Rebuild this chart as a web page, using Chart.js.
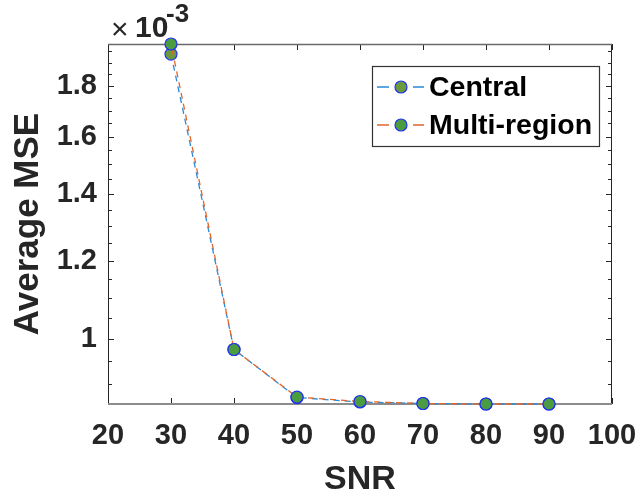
<!DOCTYPE html>
<html>
<head>
<meta charset="utf-8">
<script src="https://cdn.jsdelivr.net/npm/chart.js@4/dist/chart.umd.min.js"></script>
<style>
  html, body { margin: 0; padding: 0; background: #fff; }
  #wrap { width: 639px; height: 496px; }
</style>
</head>
<body>
<div id="wrap"><canvas id="mseChart" width="639" height="496"></canvas></div>
<script>
// SNR sweep and averaged MSE of both estimators
var snr = [30, 40, 50, 60, 70, 80, 90];
var centralMse = [1.938e-3, 0.976e-3, 0.873e-3, 0.864e-3, 0.861e-3, 0.860e-3, 0.860e-3];
var multiRegionMse = [1.984e-3, 0.976e-3, 0.874e-3, 0.865e-3, 0.861e-3, 0.860e-3, 0.860e-3];

// axis ticks
var xTicks = [20, 30, 40, 50, 60, 70, 80, 90, 100];
var yTicks = [1.0e-3, 1.2e-3, 1.4e-3, 1.6e-3, 1.8e-3];
var yMinorTicks = [0.9e-3, 0.95e-3, 1.05e-3, 1.1e-3, 1.15e-3, 1.25e-3, 1.3e-3, 1.35e-3,
                   1.45e-3, 1.5e-3, 1.55e-3, 1.65e-3, 1.7e-3, 1.75e-3, 1.85e-3, 1.9e-3, 1.95e-3];

var FONT = '"Liberation Sans", Arial, Helvetica, sans-serif';

function toPoints(ys) {
    return snr.map(function(x, i) { return { x: x, y: ys[i] }; });
}

// frame + inward tick marks, drawn under the data
const axesBox = {
    id: 'axesBox',
    beforeDatasetsDraw(chart) {
        const ctx = chart.ctx, a = chart.chartArea;
        const x = chart.scales.x, y = chart.scales.y;
        ctx.save();
        ctx.lineWidth = 1;
        ctx.strokeStyle = '#262626';
        function seg(x0, y0, x1, y1) {
            ctx.beginPath(); ctx.moveTo(x0, y0); ctx.lineTo(x1, y1); ctx.stroke();
        }
        xTicks.forEach(function(v) {
            var px = Math.round(x.getPixelForValue(v)) + 0.5;
            seg(px, a.bottom, px, a.bottom - 6);
            seg(px, a.top, px, a.top + 6);
        });
        yTicks.forEach(function(v) {
            var py = Math.round(y.getPixelForValue(v)) + 0.5;
            seg(a.left, py, a.left + 6, py);
            seg(a.right, py, a.right - 6, py);
        });
        yMinorTicks.forEach(function(v) {
            var py = Math.round(y.getPixelForValue(v)) + 0.5;
            seg(a.left, py, a.left + 4, py);
            seg(a.right, py, a.right - 4, py);
        });
        seg(a.left + 0.5, a.top, a.left + 0.5, a.bottom);
        seg(a.right - 0.5, a.top, a.right - 0.5, a.bottom);
        ctx.strokeStyle = '#6a6a6a';
        ctx.lineWidth = 1.5;
        seg(a.left, a.top + 0.5, a.right, a.top + 0.5);
        ctx.strokeStyle = '#8c8c8c';
        ctx.lineWidth = 2;
        seg(a.left, a.bottom, a.right, a.bottom);
        ctx.restore();
    },
    afterDraw(chart) {
        // exponent label above the y axis
        const ctx = chart.ctx;
        ctx.save();
        ctx.fillStyle = '#262626';
        ctx.textBaseline = 'alphabetic';
        ctx.font = '30px ' + FONT;
        ctx.fillText('\u00d7', 111, 39);
        ctx.font = 'bold 30px ' + FONT;
        ctx.fillText('10', 135, 37);
        ctx.font = 'bold 26px ' + FONT;
        ctx.fillText('-3', 166, 22);
        ctx.restore();
    }
};

// boxed legend in the upper right of the plot
const boxLegend = {
    id: 'boxLegend',
    afterDatasetsDraw(chart) {
        const ctx = chart.ctx;
        const sets = chart.data.datasets;
        const bx = 372, by = 66, bw = 227, bh = 80;
        ctx.save();
        ctx.fillStyle = '#fff';
        ctx.fillRect(bx, by, bw, bh);
        ctx.strokeStyle = '#333';
        ctx.lineWidth = 1.2;
        ctx.strokeRect(bx + 0.5, by + 0.5, bw, bh);
        sets.forEach(function(ds, i) {
            var cy = 87 + i * 38;
            ctx.strokeStyle = ds.borderColor;
            ctx.lineWidth = ds.borderWidth;
            ctx.beginPath();
            ctx.moveTo(377, cy); ctx.lineTo(389, cy);
            ctx.moveTo(413, cy); ctx.lineTo(424, cy);
            ctx.stroke();
            ctx.beginPath();
            ctx.arc(401, cy, ds.pointRadius, 0, Math.PI * 2);
            ctx.fillStyle = ds.pointBackgroundColor;
            ctx.fill();
            ctx.strokeStyle = ds.pointBorderColor;
            ctx.lineWidth = ds.pointBorderWidth;
            ctx.stroke();
            ctx.fillStyle = '#000';
            ctx.font = 'bold 28.5px ' + FONT;
            ctx.textBaseline = 'middle';
            ctx.fillText(ds.label, 429, cy + 1);
        });
        ctx.restore();
    }
};

var ctx = document.getElementById('mseChart').getContext('2d');
var mseChart = new Chart(ctx, {
    type: 'line',
    data: {
        datasets: [{
            label: 'Central',
            data: toPoints(centralMse),
            borderColor: '#2a8ad4',
            borderWidth: 1.3,
            borderDash: [6, 5],
            pointRadius: 6,
            pointBackgroundColor: '#6a9a3c',
            pointBorderColor: '#2233ee',
            pointBorderWidth: 1.2,
            order: 1,
            clip: false
        }, {
            label: 'Multi-region',
            data: toPoints(multiRegionMse),
            borderColor: '#e0662c',
            borderWidth: 1.3,
            borderDash: [6, 5],
            borderDashOffset: 5,
            pointRadius: 6,
            pointBackgroundColor: '#4b9c40',
            pointBorderColor: '#2233ee',
            pointBorderWidth: 1.2,
            order: 0,
            clip: false
        }]
    },
    options: {
        responsive: false,
        animation: false,
        layout: { padding: { top: 44, right: 27, left: 0, bottom: 0 } },
        scales: {
            x: {
                type: 'linear',
                min: 20,
                max: 100,
                afterBuildTicks: function(s) { s.ticks = xTicks.map(function(v) { return { value: v }; }); },
                afterFit: function(s) { s.height = 92; s.paddingLeft = 0; s.paddingRight = 0; },
                grid: { display: false, drawTicks: false },
                border: { display: false },
                ticks: {
                    autoSkip: false,
                    maxRotation: 0,
                    padding: 15,
                    color: '#262626',
                    font: { family: FONT, weight: 'bold', size: 29 }
                },
                title: {
                    display: true,
                    text: 'SNR',
                    color: '#262626',
                    padding: { top: 0, bottom: 0 },
                    font: { family: FONT, weight: 'bold', size: 34, lineHeight: 0.95 }
                }
            },
            y: {
                type: 'logarithmic',
                min: 0.86e-3,
                max: 1.984e-3,
                afterBuildTicks: function(s) { s.ticks = yTicks.map(function(v) { return { value: v }; }); },
                afterFit: function(s) { s.width = 108; s.paddingTop = 0; s.paddingBottom = 0; },
                grid: { display: false, drawTicks: false },
                border: { display: false },
                ticks: {
                    padding: 11,
                    color: '#262626',
                    font: { family: FONT, weight: 'bold', size: 29 },
                    callback: function(value) { return String(Math.round(value * 1e4) / 10); }
                },
                title: {
                    display: true,
                    text: 'Average MSE',
                    color: '#262626',
                    padding: { top: 7, bottom: 0 },
                    font: { family: FONT, weight: 'bold', size: 35 }
                }
            }
        },
        plugins: {
            legend: { display: false },
            tooltip: { enabled: false }
        }
    },
    plugins: [axesBox, boxLegend]
});
</script>
</body>
</html>
